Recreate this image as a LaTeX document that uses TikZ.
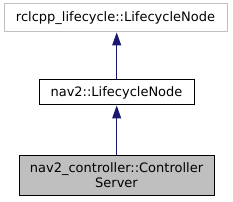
\documentclass[tikz,border=0pt]{standalone}
\usepackage{fontspec}
\setmainfont{DejaVu Sans}
\usetikzlibrary{arrows.meta}
\definecolor{edgeblue}{HTML}{191970}
\definecolor{boxgray}{HTML}{BFBFBF}
\begin{document}
\begin{tikzpicture}[x=1pt,y=1pt,
  cls/.style={draw=black, line width=1pt, fill=white, inner sep=0pt, align=center,
    font=\fontsize{13}{15.5}\selectfont},
  ext/.style={cls, draw=boxgray},
  cur/.style={cls, fill=boxgray},
  inh/.style={draw=edgeblue, line width=1pt, -{Triangle[length=13pt,width=9pt]}}]
\useasboundingbox (0,0) rectangle (233,201);
\node[ext, minimum width=223pt, minimum height=28pt] (base) at (115.5,183) {rclcpp\_lifecycle::LifecycleNode};
\node[cls, minimum width=155pt, minimum height=25pt] (mid) at (116.5,108.5) {nav2::LifecycleNode};
\node[cur, minimum width=195pt, minimum height=40pt] (ctl) at (116.5,26) {nav2\_controller::Controller\\Server};
\draw[inh] (mid.north -| 116.7,0) -- (base.south -| 116.7,0);
\draw[inh] (ctl.north -| 116.7,0) -- (mid.south -| 116.7,0);
\end{tikzpicture}
\end{document}
